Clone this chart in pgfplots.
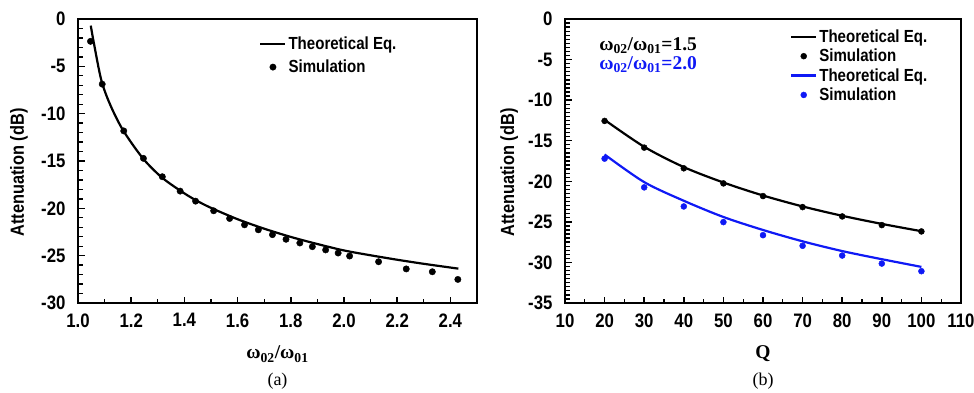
\documentclass[border=0pt]{standalone}
\usepackage{fontspec}
\usepackage{pgfplots}
\pgfplotsset{compat=1.18}
\setmainfont{Liberation Sans}
\newfontfamily\lsans{Liberation Sans}[FakeStretch=0.86]
\newfontfamily\lserif{Liberation Serif}
\definecolor{myblue}{RGB}{15,25,245}
\newcommand{\tickf}{\lsans\bfseries\fontsize{19.5}{22}\selectfont}
\newcommand{\labf}{\lsans\bfseries\fontsize{19}{22}\selectfont}
\newcommand{\legf}{\lsans\bfseries\fontsize{17.5}{20}\selectfont}
\newcommand{\serf}{\lserif\bfseries\fontsize{19.5}{22}\selectfont}
\newcommand{\capf}{\lserif\fontsize{18}{21}\selectfont}
\newcommand{\wratio}{ω\textsubscript{02}/ω\textsubscript{01}}

\pgfplotsset{
  common/.style={
    scale only axis,
    anchor=south west,
    tick align=inside,
    tick pos=left,
    axis line style={line width=2.3pt},
    major tick style={line width=1.5pt, black},
    minor tick style={line width=1.3pt, black},
    major tick length=6.5pt,
    minor tick length=4.5pt,
    tick label style={font=\tickf},
    xticklabel style={yshift=-7pt},
    yticklabel style={xshift=-9pt},
    clip=false,
    legend cell align=left,
    legend image code/.code={\draw[mark repeat=2,mark phase=2,#1] plot coordinates {(0pt,0pt) (12.5pt,0pt) (25pt,0pt)};},
  },
}

\begin{document}
\begin{tikzpicture}
\useasboundingbox (0,0) rectangle (974pt,392pt);

% ---------------- (a) ----------------
\begin{axis}[common,
  at={(78pt,89pt)}, width=399pt, height=284pt,
  xmin=1, xmax=2.5, ymin=-30, ymax=0,
  xtick={1.0,1.2,1.4,1.6,1.8,2.0,2.2,2.4},
  xticklabels={1.0,1.2,1.4,1.6,1.8,2.0,2.2,2.4},
  ytick={-30,-25,-20,-15,-10,-5,0},
  yticklabels={-30,-25,-20,-15,-10,-5,0},
  minor x tick num=1, minor y tick num=4,
  ylabel={Attenuation (dB)},
  ylabel style={font=\labf, at={(axis description cs:-0.148,0.46)}, rotate=0, anchor=center},
  xlabel={\wratio},
  xlabel style={font=\serf, at={(axis description cs:0.5,-0.18)}, anchor=center},
  legend style={font=\legf, draw=none, fill=none, at={(axis description cs:0.454,0.945)}, anchor=north west, inner sep=0pt, row sep=5pt, nodes={inner sep=2pt}},
]
\addplot[black, line width=2.2pt, smooth, tension=0.5] coordinates {
(1.048,-0.70) (1.060,-2.59) (1.0874,-6.43) (1.12,-8.99) (1.1687,-11.72)
(1.2437,-14.71) (1.312,-16.66) (1.381,-18.07) (1.437,-19.05) (1.5,-19.95)
(1.6,-21.15) (1.7,-22.15) (1.8,-23.02) (1.9,-23.77) (2.0,-24.45)
(2.1,-24.96) (2.2,-25.43) (2.3,-25.86) (2.43,-26.37)
};
\addlegendentry{Theoretical Eq.}
\addplot[only marks, mark=*, mark size=3.2pt, black] coordinates {
(1.047,-2.36) (1.091,-6.88) (1.172,-11.82) (1.246,-14.72) (1.317,-16.66)
(1.384,-18.18) (1.442,-19.24) (1.510,-20.26) (1.570,-21.07) (1.626,-21.74)
(1.678,-22.27) (1.731,-22.78) (1.782,-23.27) (1.834,-23.66) (1.881,-24.05)
(1.931,-24.39) (1.978,-24.72) (2.021,-25.04) (2.130,-25.64) (2.234,-26.40)
(2.332,-26.70) (2.428,-27.51)
};
\addlegendentry{Simulation}
\node[font=\capf] at (axis description cs:0.5,-0.275) {(a)};
\end{axis}

% ---------------- (b) ----------------
\begin{axis}[common,
  at={(565pt,89pt)}, width=396pt, height=284pt,
  xmin=10, xmax=110, ymin=-35, ymax=0,
  xtick={10,20,30,40,50,60,70,80,90,100,110},
  xticklabels={10,20,30,40,50,60,70,80,90,100,110},
  ytick={-35,-30,-25,-20,-15,-10,-5,0},
  yticklabels={-35,-30,-25,-20,-15,-10,-5,0},
  minor x tick num=1, minor y tick num=9,
  ylabel={Attenuation (dB)},
  ylabel style={font=\labf, at={(axis description cs:-0.141,0.46)}, anchor=center},
  xlabel={Q},
  xlabel style={font=\serf, at={(axis description cs:0.5,-0.18)}, anchor=center},
  legend style={font=\legf, draw=none, fill=none, at={(axis description cs:0.568,0.97)}, anchor=north west, inner sep=0pt, row sep=1.2pt, nodes={inner sep=2pt}},
]
\addplot[black, line width=2.2pt, smooth] coordinates {
(20,-12.43) (30,-15.75) (40,-18.25) (50,-20.15) (60,-21.75) (70,-23.10) (80,-24.25) (90,-25.25) (100,-26.15)
};
\addlegendentry{Theoretical Eq.}
\addplot[only marks, mark=*, mark size=3pt, black] coordinates {
(20,-12.56) (30,-15.85) (40,-18.40) (50,-20.26) (60,-21.82) (70,-23.18) (80,-24.33) (90,-25.40) (100,-26.18)
};
\addlegendentry{Simulation}
\addplot[myblue, line width=2.2pt, smooth] coordinates {
(20,-16.70) (30,-20.10) (40,-22.40) (50,-24.40) (60,-26.00) (70,-27.40) (80,-28.60) (90,-29.60) (100,-30.55)
};
\addlegendentry{Theoretical Eq.}
\addplot[only marks, mark=*, mark size=3pt, myblue] coordinates {
(20,-17.21) (30,-20.75) (40,-23.10) (50,-25.03) (60,-26.64) (70,-27.95) (80,-29.15) (90,-30.14) (100,-31.08)
};
\addlegendentry{Simulation}
\node[font=\serf, anchor=west, inner sep=0pt] at (axis cs:18.6,-3.3) {\wratio=1.5};
\node[font=\serf, anchor=west, inner sep=0pt, text=myblue] at (axis cs:18.6,-5.65) {\wratio=2.0};
\node[font=\capf] at (axis description cs:0.5,-0.275) {(b)};
\end{axis}
\end{tikzpicture}
\end{document}
